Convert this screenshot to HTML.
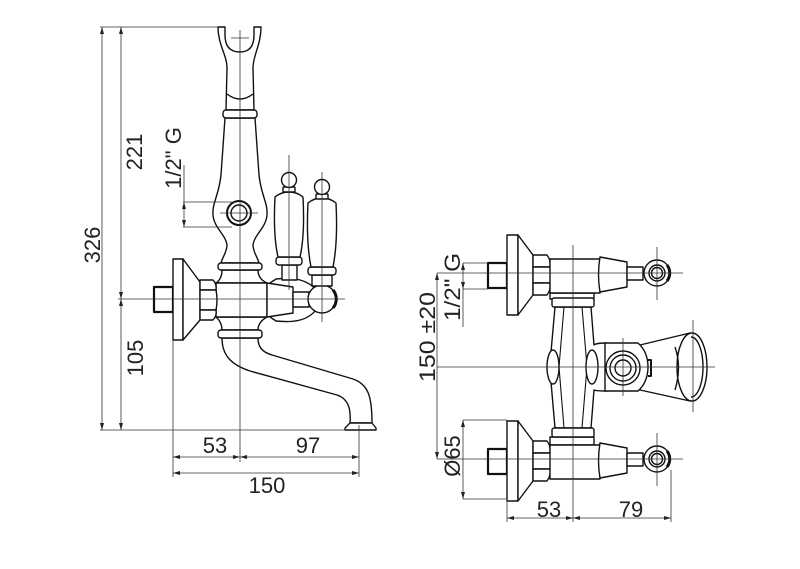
<!DOCTYPE html>
<html><head><meta charset="utf-8"><style>
html,body{margin:0;padding:0;background:#fff;}
svg{display:block}
text{font-family:"Liberation Sans",sans-serif;font-size:22px;fill:#222;}
</style></head><body>
<svg width="800" height="569" viewBox="0 0 800 569" xmlns="http://www.w3.org/2000/svg">
<defs>
<marker id="a" markerWidth="7" markerHeight="4" refX="7" refY="2" orient="auto-start-reverse" markerUnits="userSpaceOnUse"><path d="M0,0 L7,2 L0,4 Z" fill="#222"/></marker>
</defs>

<!-- ============ LEFT VIEW SHAPES ============ -->
<g stroke="#111" stroke-width="1.4" fill="#fff" stroke-linejoin="round">
  <!-- spout -->
  <path d="M222,338 C222,356 232,365 250,371 L337,395 C349,399 351,410 350,423 L372,423 C372,396 368,384 353,379 L272,355 C262,352 258,347 258,338 Z"/>
  <path d="M350,423 L345,428 L345,430 L376,430 L376,428 L372,423 Z"/>
  <!-- riser body -->
  <path d="M225,118 C223,145 222,160 221,175 C219,195 212,203 213,215 C214,228 226,235 227,245 C227,252 222,258 221,263 L259,263 C258,258 253,252 253,245 C254,235 266,228 267,215 C268,203 261,195 259,175 C258,160 257,145 255,118 Z"/>
  <!-- hook -->
  <path d="M218,27 L225,27 L225,35 Q225,52 240,52 Q254,52 254,35 L254,27 L261,27 C261,45 253,55 253,68 L254,110 L226,110 L227,68 C227,55 218,45 218,27 Z"/>
  <path d="M227,94 Q240,104 253,94" fill="none"/>
  <rect x="223" y="110" width="34" height="8" rx="3"/>
  <!-- collars & T -->
  <path d="M222,270 Q222,279 216,283 L267,283 Q258,279 258,270 Z"/>
  <rect x="218" y="263" width="44" height="7" rx="3"/>
  <path d="M216,317 Q222,322 222,330 L258,330 Q258,322 267,317 Z"/>
  <rect x="216" y="283" width="51" height="34"/>
  <rect x="218" y="330" width="44" height="8" rx="3"/>
  <!-- stub, plate, cone -->
  <rect x="154" y="287" width="19" height="25" stroke-width="2.2"/>
  <rect x="173" y="259" width="10" height="81"/>
  <path d="M183,259 L200,282 L200,320 L183,340 Z"/>
  <!-- hex nut -->
  <path d="M200,280 L213,280 Q217,284 216,290 L200,290 Z"/>
  <path d="M200,290 L216,290 Q218,300 216,310 L200,310 Z"/>
  <path d="M200,310 L216,310 Q217,316 213,320 L200,320 Z"/>
  <!-- diverter housing -->
  <path d="M270,283 L276,279 C295,277 308,280 316,290 L316,310 C308,320 295,323 276,321 L270,317 Z"/>
  <path d="M267,283 L293,287 L293,313 L267,317 Z"/>
  <rect x="293" y="292" width="16" height="15"/>
  <circle cx="322" cy="299" r="14"/>
  <path d="M333,290 A14,14 0 0 1 333,308" fill="none" stroke-width="3"/>
  <!-- handle 1 -->
  <rect x="282" y="265" width="15" height="15"/>
  <rect x="276" y="257" width="26" height="8" rx="3"/>
  <path d="M275,197 Q273,235 278,257 L300,257 Q305,235 303,197 Q297,192 289,192 Q281,192 275,197 Z"/>
  <rect x="283" y="187" width="12" height="5" rx="1"/>
  <circle cx="289" cy="180" r="7.5"/>
  <!-- handle 2 -->
  <rect x="312" y="275" width="20" height="11"/>
  <rect x="308" y="267" width="28" height="8" rx="3"/>
  <path d="M308,203 Q306,242 311,267 L333,267 Q338,242 336,203 Q330,198 322,198 Q314,198 308,203 Z"/>
  <rect x="316" y="194" width="12" height="5" rx="1"/>
  <circle cx="322" cy="187" r="7.5"/>
  <!-- 1/2 G connection -->
  <circle cx="239" cy="213" r="12" stroke-width="2"/>
  <circle cx="239" cy="213" r="8"/>
</g>

<!-- ============ RIGHT VIEW SHAPES ============ -->
<g stroke="#111" stroke-width="1.4" fill="#fff" stroke-linejoin="round">
  <!-- lever -->
  <path d="M640,345 L690,333 L690,401 L640,390 Z"/>
  <ellipse cx="692" cy="367" rx="15" ry="34"/>
  <path d="M691,337 A12,30 0 0 1 691,397" fill="none"/>
  <path d="M675,347 Q682,367 675,390" fill="none"/>
  <!-- column -->
  <path d="M555,307 L551,352 L551,382 L555,428 L591,428 L594,390 Q596,391 607,391 L607,343 Q596,343 594,345 L591,307 Z"/>
  <path d="M564,307 L559,367 L564,428 M582,307 L587,367 L582,428" fill="none" stroke-width="1.1"/>
  <ellipse cx="553" cy="367" rx="6" ry="17"/>
  <ellipse cx="592" cy="367" rx="6" ry="17"/>
  <!-- diverter block -->
  <path d="M605,343 L638,343 Q648,352 648,367 Q648,382 638,391 L605,391 Z"/>
  <circle cx="623" cy="368" r="17"/>
  <circle cx="623" cy="368" r="13"/>
  <circle cx="623" cy="368" r="8"/>
  <path d="M648,360 L651,360 L651,376 L648,376" fill="none" stroke-width="2"/>

  <!-- upper assembly -->
  <rect x="550" y="293" width="44" height="6"/>
  <rect x="552" y="298" width="42" height="9" rx="2"/>
  <rect x="488" y="263" width="19" height="25" stroke-width="2.2"/>
  <rect x="507" y="235" width="11" height="80"/>
  <path d="M518,235 L533,255 L533,295 L518,315 Z"/>
  <path d="M533,255 L547,255 Q551,260 550,267 L533,267 Z"/>
  <path d="M533,267 L550,267 Q552,275 550,283 L533,283 Z"/>
  <path d="M533,283 L550,283 Q551,290 547,295 L533,295 Z"/>
  <rect x="550" y="259" width="50" height="34"/>
  <path d="M600,257 Q597,275 600,292 L627,287 L627,262 Z"/>
  <rect x="627" y="267" width="16" height="13"/>
  <circle cx="657" cy="273" r="13"/>
  <circle cx="657" cy="273" r="8"/>
  <circle cx="657" cy="273" r="5.5"/>
  <path d="M667,265 A13,13 0 0 1 667,281" fill="none" stroke-width="3"/>

  <!-- lower assembly -->
  <rect x="550" y="437" width="44" height="8"/>
  <rect x="552" y="428" width="42" height="9" rx="2"/>
  <rect x="488" y="449" width="19" height="25" stroke-width="2.2"/>
  <rect x="507" y="421" width="11" height="80"/>
  <path d="M518,421 L533,441 L533,481 L518,501 Z"/>
  <path d="M533,441 L547,441 Q551,446 550,453 L533,453 Z"/>
  <path d="M533,453 L550,453 Q552,461 550,469 L533,469 Z"/>
  <path d="M533,469 L550,469 Q551,476 547,481 L533,481 Z"/>
  <rect x="550" y="445" width="50" height="34"/>
  <path d="M600,443 Q597,461 600,478 L627,473 L627,448 Z"/>
  <rect x="627" y="453" width="16" height="13"/>
  <circle cx="657" cy="459" r="13"/>
  <circle cx="657" cy="459" r="8"/>
  <circle cx="657" cy="459" r="5.5"/>
  <path d="M667,451 A13,13 0 0 1 667,467" fill="none" stroke-width="3"/>
</g>

<!-- ============ THIN LINES ============ -->
<g stroke="#333" stroke-width="0.8" fill="none">
  <!-- left view -->
  <line x1="100" y1="27" x2="218" y2="27"/>
  <line x1="100" y1="430" x2="345" y2="430"/>
  <line x1="118" y1="299" x2="345" y2="299"/>
  <line x1="240" y1="30" x2="240" y2="462"/>
  <line x1="231" y1="38" x2="249" y2="38"/>
  <line x1="183" y1="202" x2="232" y2="202"/>
  <line x1="183" y1="227" x2="232" y2="227"/>
  <line x1="220" y1="213" x2="258" y2="213"/>
  <line x1="184" y1="165" x2="184" y2="202"/>
  <line x1="173" y1="340" x2="173" y2="477"/>
  <line x1="359" y1="425" x2="359" y2="477"/>
  <line x1="289" y1="155" x2="289" y2="290"/>
  <line x1="322" y1="172" x2="322" y2="322"/>
  <!-- right view -->
  <line x1="437" y1="273" x2="683" y2="273"/>
  <line x1="437" y1="459" x2="683" y2="459"/>
  <line x1="437" y1="367" x2="715" y2="367"/>
  <line x1="573" y1="245" x2="573" y2="522"/>
  <line x1="657" y1="247" x2="657" y2="300"/>
  <line x1="657" y1="433" x2="657" y2="486"/>
  <line x1="623" y1="338" x2="623" y2="396"/>
  <line x1="693" y1="320" x2="693" y2="412"/>
  <line x1="463" y1="263" x2="488" y2="263"/>
  <line x1="463" y1="289" x2="488" y2="289"/>
  <line x1="463" y1="289" x2="463" y2="327"/>
  <line x1="463" y1="420" x2="507" y2="420"/>
  <line x1="463" y1="499" x2="507" y2="499"/>
  <line x1="507" y1="499" x2="507" y2="522"/>
  <line x1="671" y1="470" x2="671" y2="522"/>
</g>

<!-- dimension lines with arrows -->
<g stroke="#333" stroke-width="0.8" fill="none" marker-start="url(#a)" marker-end="url(#a)">
  <line x1="102" y1="27" x2="102" y2="430"/>
  <line x1="121" y1="27" x2="121" y2="299"/>
  <line x1="121" y1="299" x2="121" y2="430"/>
  <line x1="184" y1="202" x2="184" y2="227"/>
  <line x1="173" y1="457" x2="240" y2="457"/>
  <line x1="240" y1="457" x2="359" y2="457"/>
  <line x1="173" y1="473" x2="359" y2="473"/>
  <line x1="437" y1="273" x2="437" y2="459"/>
  <line x1="463" y1="263" x2="463" y2="289"/>
  <line x1="463" y1="420" x2="463" y2="499"/>
  <line x1="507" y1="518" x2="573" y2="518"/>
  <line x1="573" y1="518" x2="671" y2="518"/>
</g>

<!-- ============ TEXT ============ -->
<text transform="translate(100,245) rotate(-90)" text-anchor="middle">326</text>
<text transform="translate(142,152) rotate(-90)" text-anchor="middle">221</text>
<text transform="translate(181,158) rotate(-90)" text-anchor="middle">1/2" G</text>
<text transform="translate(143,358) rotate(-90)" text-anchor="middle">105</text>
<text x="215" y="453" text-anchor="middle">53</text>
<text x="308" y="453" text-anchor="middle">97</text>
<text x="267" y="493" text-anchor="middle">150</text>

<text transform="translate(435,337) rotate(-90)" text-anchor="middle" textLength="90" lengthAdjust="spacingAndGlyphs">150 ±20</text>
<text transform="translate(460,287) rotate(-90)" text-anchor="middle" textLength="68" lengthAdjust="spacingAndGlyphs">1/2" G</text>
<text transform="translate(460,456) rotate(-90)" text-anchor="middle">Ø65</text>
<text x="549" y="517" text-anchor="middle">53</text>
<text x="631" y="517" text-anchor="middle">79</text>
</svg>
</body></html>
